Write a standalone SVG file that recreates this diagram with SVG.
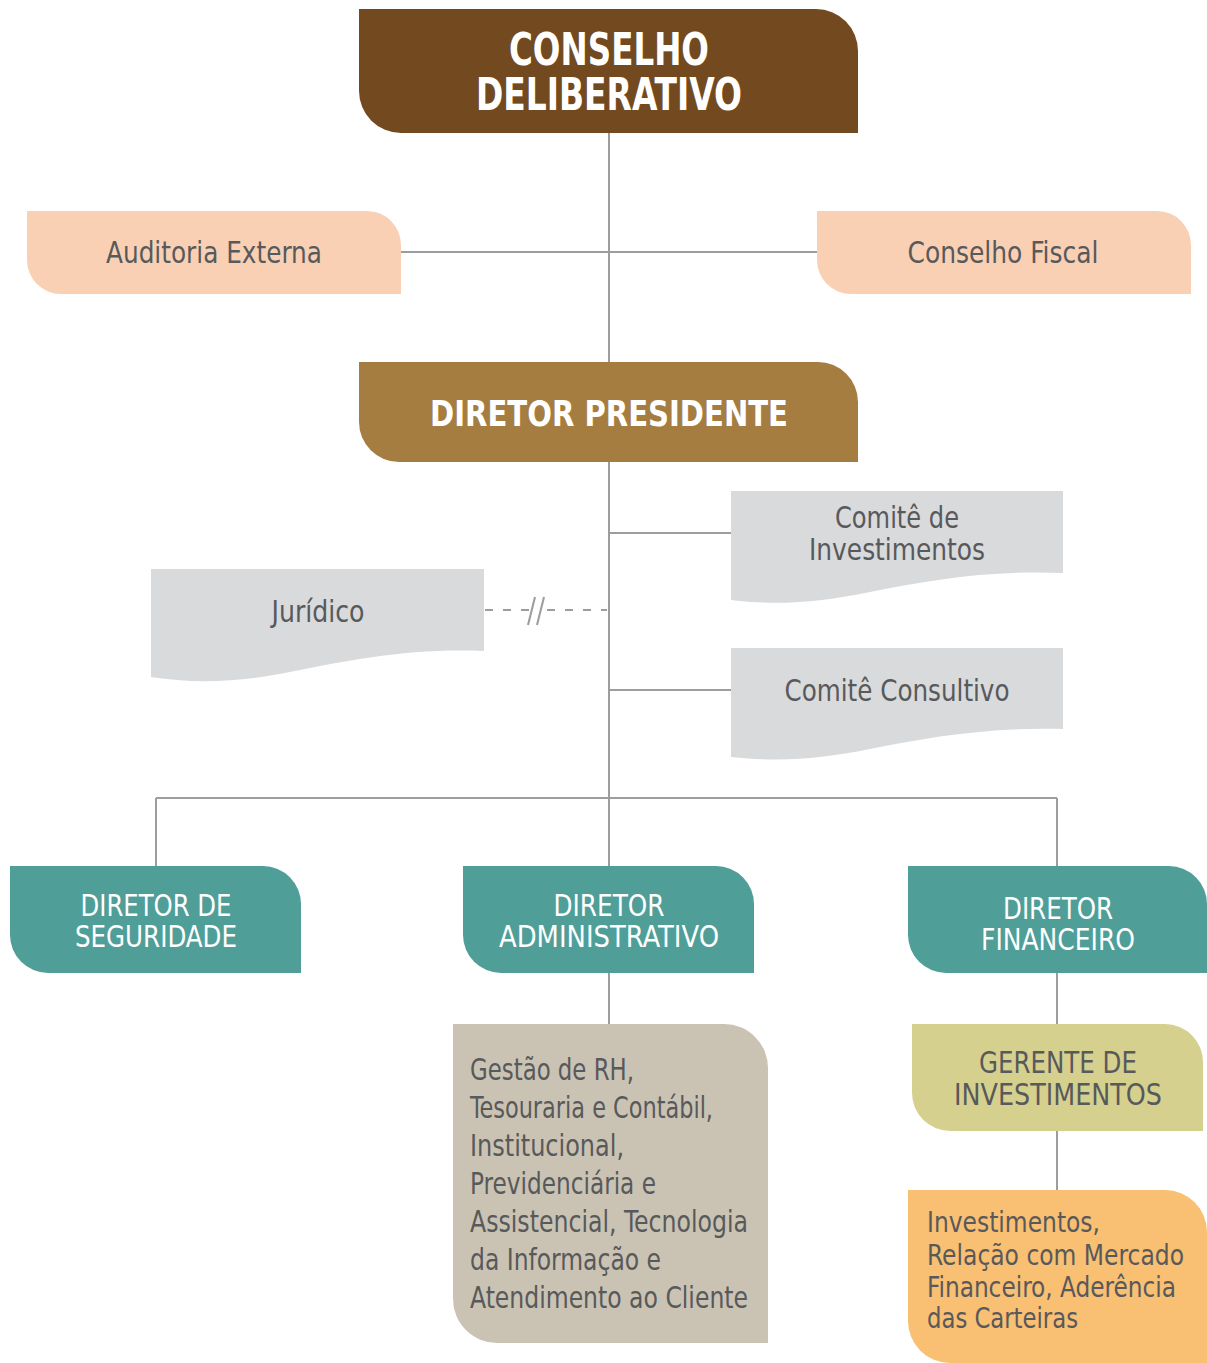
<svg xmlns="http://www.w3.org/2000/svg" width="1207" height="1363" viewBox="0 0 1207 1363">
<style>
text{font-family:"Liberation Sans Narrow","DejaVu Sans Condensed","Liberation Sans",sans-serif;}
.w{fill:#ffffff;}
.g{fill:#58595b;}
.b{font-weight:bold;}
.c{text-anchor:middle;}
.ln{stroke:#9d9d9f;stroke-width:2;fill:none;}
.dash{stroke:#9d9d9f;stroke-width:2;fill:none;stroke-dasharray:8 10;}
</style>
<rect width="1207" height="1363" fill="#ffffff"/>
<g id="connectors">
<line class="ln" x1="609" y1="133" x2="609" y2="362"/>
<line class="ln" x1="401" y1="252" x2="817" y2="252"/>
<line class="ln" x1="609" y1="462" x2="609" y2="866"/>
<line class="ln" x1="609" y1="533" x2="731" y2="533"/>
<line class="ln" x1="609" y1="690" x2="731" y2="690"/>
<line class="ln" x1="156" y1="798" x2="1057" y2="798"/>
<line class="ln" x1="156" y1="798" x2="156" y2="866"/>
<line class="ln" x1="1057" y1="798" x2="1057" y2="866"/>
<line class="ln" x1="609" y1="973" x2="609" y2="1024"/>
<line class="ln" x1="1057" y1="973" x2="1057" y2="1024"/>
<line class="ln" x1="1057" y1="1131" x2="1057" y2="1190"/>
<line class="dash" x1="485" y1="610" x2="529" y2="610"/>
<line class="dash" x1="547" y1="610" x2="607" y2="610"/>
<line class="ln" x1="528" y1="625" x2="535" y2="597"/>
<line class="ln" x1="537" y1="625" x2="544" y2="597"/>
</g>
<g id="conselho-deliberativo">
<path d="M359,9 H816 A42,42 0 0 1 858,51 V133 H401 A42,42 0 0 1 359,91 Z" fill="#734a20"/>
<text class="w b c" x="609" y="65" font-size="44" textLength="200" lengthAdjust="spacingAndGlyphs">CONSELHO</text>
<text class="w b c" x="609" y="110" font-size="44" textLength="266" lengthAdjust="spacingAndGlyphs">DELIBERATIVO</text>
</g>
<g id="auditoria-externa">
<path d="M27,211 H367 A34,34 0 0 1 401,245 V294 H61 A34,34 0 0 1 27,260 Z" fill="#f9d0b3"/>
<text class="g c" x="214" y="263" font-size="31" textLength="216" lengthAdjust="spacingAndGlyphs">Auditoria Externa</text>
</g>
<g id="conselho-fiscal">
<path d="M817,211 H1157 A34,34 0 0 1 1191,245 V294 H851 A34,34 0 0 1 817,260 Z" fill="#f9d0b3"/>
<text class="g c" x="1003" y="263" font-size="31" textLength="191" lengthAdjust="spacingAndGlyphs">Conselho Fiscal</text>
</g>
<g id="diretor-presidente">
<path d="M359,362 H818 A40,40 0 0 1 858,402 V462 H399 A40,40 0 0 1 359,422 Z" fill="#a57d40"/>
<text class="w b c" x="609" y="426" font-size="36" textLength="358" lengthAdjust="spacingAndGlyphs">DIRETOR PRESIDENTE</text>
</g>
<g id="comite-investimentos">
<path d="M731,491 H1063 V573 C990,570 930,580 870,592 C820,602 780,606 731,600 Z" fill="#d9dadc"/>
<text class="g c" x="897" y="528" font-size="30" textLength="124" lengthAdjust="spacingAndGlyphs">Comitê de</text>
<text class="g c" x="897" y="560" font-size="30" textLength="176" lengthAdjust="spacingAndGlyphs">Investimentos</text>
</g>
<g id="juridico">
<path d="M151,569 H484 V651 C410,648 350,660 290,672 C240,682 195,684 151,677 Z" fill="#d9dadc"/>
<text class="g c" x="318" y="622" font-size="30" textLength="93" lengthAdjust="spacingAndGlyphs">Jurídico</text>
</g>
<g id="comite-consultivo">
<path d="M731,648 H1063 V729 C990,727 930,737 870,749 C820,759 780,762 731,757 Z" fill="#d9dadc"/>
<text class="g c" x="897" y="701" font-size="30" textLength="225" lengthAdjust="spacingAndGlyphs">Comitê Consultivo</text>
</g>
<g id="diretor-seguridade">
<path d="M10,866 H263 A38,38 0 0 1 301,904 V973 H48 A38,38 0 0 1 10,935 Z" fill="#509e98"/>
<text class="w c" x="156" y="916" font-size="30" textLength="151" lengthAdjust="spacingAndGlyphs">DIRETOR DE</text>
<text class="w c" x="156" y="947" font-size="30" textLength="162" lengthAdjust="spacingAndGlyphs">SEGURIDADE</text>
</g>
<g id="diretor-administrativo">
<path d="M463,866 H716 A38,38 0 0 1 754,904 V973 H501 A38,38 0 0 1 463,935 Z" fill="#509e98"/>
<text class="w c" x="609" y="916" font-size="30" textLength="111" lengthAdjust="spacingAndGlyphs">DIRETOR</text>
<text class="w c" x="609" y="947" font-size="30" textLength="220" lengthAdjust="spacingAndGlyphs">ADMINISTRATIVO</text>
</g>
<g id="diretor-financeiro">
<path d="M908,866 H1169 A38,38 0 0 1 1207,904 V973 H946 A38,38 0 0 1 908,935 Z" fill="#509e98"/>
<text class="w c" x="1058" y="919" font-size="30" textLength="110" lengthAdjust="spacingAndGlyphs">DIRETOR</text>
<text class="w c" x="1058" y="950" font-size="30" textLength="154" lengthAdjust="spacingAndGlyphs">FINANCEIRO</text>
</g>
<g id="areas-administrativas">
<path d="M453,1024 H724 A44,44 0 0 1 768,1068 V1343 H497 A44,44 0 0 1 453,1299 Z" fill="#cac3b3"/>
<text class="g" x="470" y="1080" font-size="30" textLength="164" lengthAdjust="spacingAndGlyphs">Gestão de RH,</text>
<text class="g" x="470" y="1118" font-size="30" textLength="243" lengthAdjust="spacingAndGlyphs">Tesouraria e Contábil,</text>
<text class="g" x="470" y="1156" font-size="30" textLength="154" lengthAdjust="spacingAndGlyphs">Institucional,</text>
<text class="g" x="470" y="1194" font-size="30" textLength="186" lengthAdjust="spacingAndGlyphs">Previdenciária e</text>
<text class="g" x="470" y="1232" font-size="30" textLength="278" lengthAdjust="spacingAndGlyphs">Assistencial, Tecnologia</text>
<text class="g" x="470" y="1270" font-size="30" textLength="191" lengthAdjust="spacingAndGlyphs">da Informação e</text>
<text class="g" x="470" y="1308" font-size="30" textLength="278" lengthAdjust="spacingAndGlyphs">Atendimento ao Cliente</text>
</g>
<g id="gerente-investimentos">
<path d="M912,1024 H1165 A38,38 0 0 1 1203,1062 V1131 H950 A38,38 0 0 1 912,1093 Z" fill="#d6d08e"/>
<text class="g c" x="1058" y="1073" font-size="30" textLength="158" lengthAdjust="spacingAndGlyphs">GERENTE DE</text>
<text class="g c" x="1058" y="1105" font-size="30" textLength="208" lengthAdjust="spacingAndGlyphs">INVESTIMENTOS</text>
</g>
<g id="areas-investimentos">
<path d="M908,1190 H1165 A42,42 0 0 1 1207,1232 V1363 H950 A42,42 0 0 1 908,1321 Z" fill="#f9bf72"/>
<text class="g" x="927" y="1232" font-size="29" textLength="173" lengthAdjust="spacingAndGlyphs">Investimentos,</text>
<text class="g" x="927" y="1265" font-size="29" textLength="257" lengthAdjust="spacingAndGlyphs">Relação com Mercado</text>
<text class="g" x="927" y="1297" font-size="29" textLength="249" lengthAdjust="spacingAndGlyphs">Financeiro, Aderência</text>
<text class="g" x="927" y="1328" font-size="29" textLength="151" lengthAdjust="spacingAndGlyphs">das Carteiras</text>
</g>
</svg>
